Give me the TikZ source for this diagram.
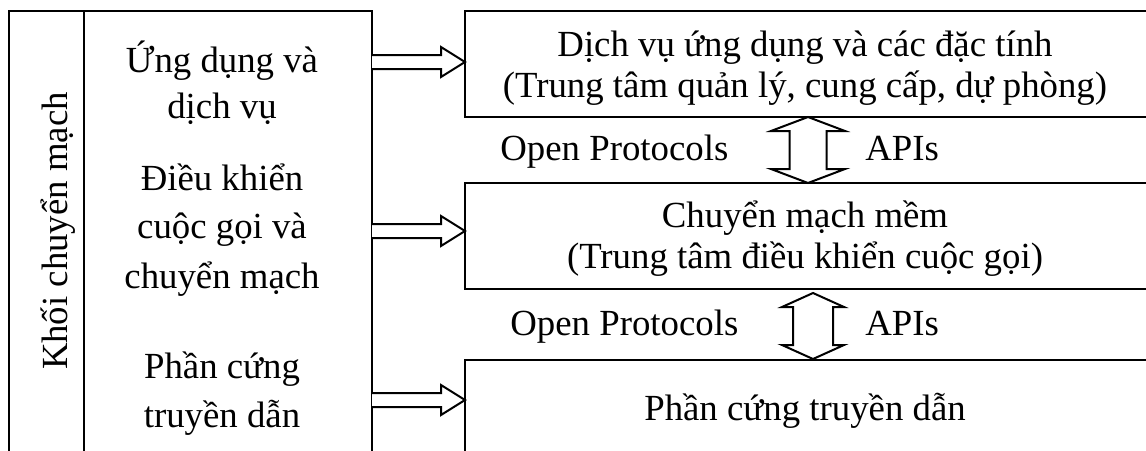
\documentclass[tikz,border=0pt]{standalone}
\usepackage{fontspec}
\setmainfont{Liberation Serif}
\begin{document}
\begin{tikzpicture}[x=0.5pt,y=-0.5pt,
  frame/.style={line width=1pt},
  lbl/.style={anchor=base, inner sep=0pt, font=\fontsize{18.4}{22}\selectfont},
  lblw/.style={lbl, anchor=base west},
  blk/.style={draw, line width=1pt, fill=white, line join=miter},
  pics/rarr/.style={code={
    \draw[blk] (-93,-7) -- (-24,-7) -- (-24,-15) -- (0,0) -- (-24,15) -- (-24,7) -- (-93,7);}},
  pics/vdarr/.style n args={2}{code={
    \draw[blk] (0,-33) -- (#1,-19) -- (#2,-19) -- (#2,19) -- (#1,19) -- (0,33)
      -- (-#1,19) -- (-#2,19) -- (-#2,-19) -- (-#1,-19) -- cycle;}},
]
\useasboundingbox (0,0) rectangle (1146,450);
\clip (0,0) rectangle (1146,450);

% left block: switching functions
\draw[frame] (9,470) -- (9,11) -- (372,11) -- (372,470);
\draw[frame] (84,11) -- (84,470);
\node[lbl, rotate=90] (khoi) at (67,231) {Khối chuyển mạch};
\node[lbl] (ud1) at (222,72) {Ứng dụng và};
\node[lbl] (ud2) at (222,118) {dịch vụ};
\node[lbl] (dk1) at (222,190) {Điều khiển};
\node[lbl] (dk2) at (222,238) {cuộc gọi và};
\node[lbl] (dk3) at (222,288) {chuyển mạch};
\node[lbl] (pc1) at (222,378) {Phần cứng};
\node[lbl] (pc2) at (222,427) {truyền dẫn};

% right blocks: layers
\draw[frame] (1160,11) -- (465,11) -- (465,117) -- (1160,117);
\draw[frame] (1160,183) -- (465,183) -- (465,289) -- (1160,289);
\draw[frame] (1160,360) -- (465,360) -- (465,470);
\node[lbl] (dv1) at (805,56) {Dịch vụ ứng dụng và các đặc tính};
\node[lbl] (dv2) at (805,97) {(Trung tâm quản lý, cung cấp, dự phòng)};
\node[lbl] (cm1) at (805,227) {Chuyển mạch mềm};
\node[lbl] (cm2) at (805,268) {(Trung tâm điều khiển cuộc gọi)};
\node[lbl] (ph) at (805,420) {Phần cứng truyền dẫn};

% interfaces between layers
\node[lblw] (op1) at (500,160) {Open Protocols};
\node[lblw] (api1) at (865,160) {APIs};
\node[lblw] (op2) at (510,335) {Open Protocols};
\node[lblw] (api2) at (865,335) {APIs};

% block arrows
\coordinate (t1) at (465,62);
\coordinate (t2) at (465,231);
\coordinate (t3) at (465,400);
\pic at (t1) {rarr};
\pic at (t2) {rarr};
\pic at (t3) {rarr};
\coordinate (v1) at (808,150);
\coordinate (v2) at (813,326);
\pic at (v1) {vdarr={37}{18.5}};
\pic at (v2) {vdarr={31}{20}};
\end{tikzpicture}
\end{document}
